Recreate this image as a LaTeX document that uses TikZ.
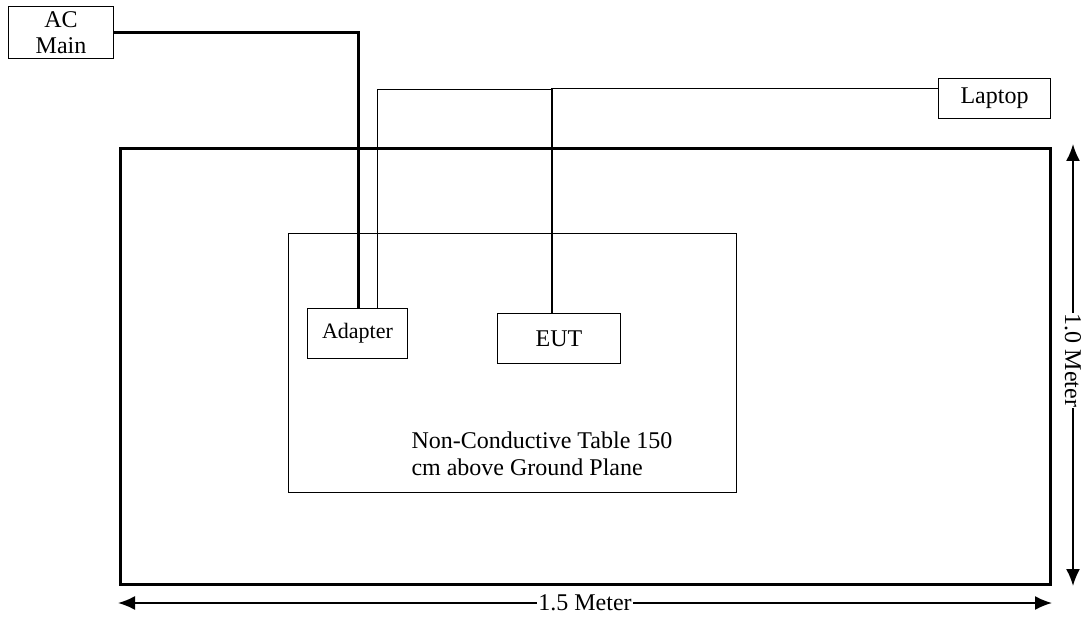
\documentclass[tikz,border=0pt]{standalone}
\usepackage{fontspec}
\setmainfont{Liberation Serif}
\usetikzlibrary{arrows.meta}
\usetikzlibrary{positioning}
\tikzset{
	x=1pt, y=-1pt,
	every path/.style = {line width=1pt},
	box/.style = {draw, rectangle, inner sep=0pt, anchor=north west, font=\fontsize{24}{29}\selectfont, align=center},
	plane/.style = {draw, rectangle, line width=3pt, inner sep=0pt, anchor=north west},
	mains/.style = {line width=3pt},
	cable/.style = {line width=1pt},
	dim/.style = {line width=1.8pt, {Latex[length=17pt,width=14pt]}-{Latex[length=17pt,width=14pt]}},
	dimlabel/.style = {fill=white, inner sep=1pt, font=\fontsize{24}{29}\selectfont}
}
\begin{document}
\begin{tikzpicture}
	\useasboundingbox (0,0) rectangle (1085,620);
	\node[plane, minimum width=930, minimum height=436] (gnd) at (119,147) {};
	\node[box, minimum width=448, minimum height=259] (table) at (288,233) {};
	\node[box, minimum width=105, minimum height=52] (ac) at (8,6) {AC\\[-3pt]Main};
	\node[box, minimum width=112, minimum height=40] (laptop) at (938,78) {Laptop};
	\node[box, minimum width=100, minimum height=50, font=\fontsize{22}{26}\selectfont] (adapter) at (307,308) {Adapter};
	\node[box, minimum width=123, minimum height=50] (eut) at (497,313) {EUT};
	\node[anchor=north west, inner sep=0pt, align=left, font=\fontsize{24}{27}\selectfont] (tabletext) at (411,431.5) {Non-Conductive Table 150\\cm above Ground Plane};
	\coordinate (acjoint) at (358,33);
	\coordinate (adjoint) at (377,90);
	\coordinate (eutjoint) at (552,88.5);
	\draw[mains] (ac.east |- acjoint) -- (acjoint) -- (acjoint |- adapter.north);
	\draw[cable] (adjoint |- adapter.north) -- (adjoint) -- (eutjoint |- adjoint);
	\draw[cable, line width=1.8pt] (eutjoint |- eut.north) -- (eutjoint);
	\draw[cable] (eutjoint) -- (laptop.west |- eutjoint);
	\coordinate (hl) at (118,603);
	\coordinate (hr) at (1052,603);
	\coordinate (vt) at (1073,144);
	\coordinate (vb) at (1073,586);
	\draw[dim] (hl) -- (hr) node[dimlabel, midway] (hlabel) {1.5 Meter};
	\draw[dim] (vt) -- (vb) node[dimlabel, pos=0.49, rotate=-90] (vlabel) {1.0 Meter};
\end{tikzpicture}
\end{document}
